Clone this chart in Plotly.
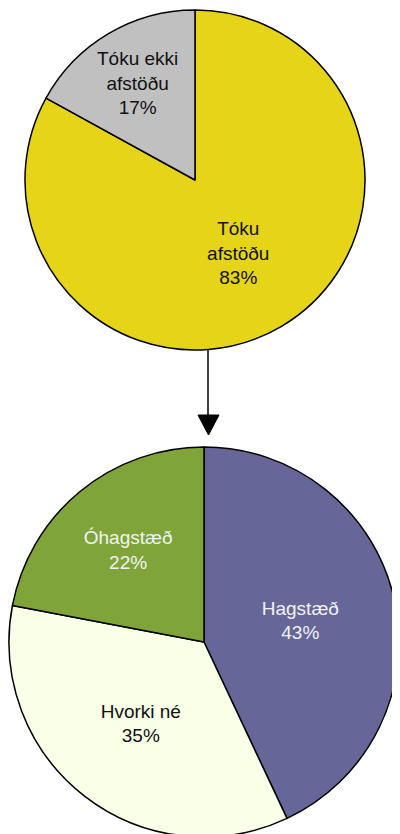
import plotly.graph_objects as go

# the page body has an 8px margin, so the figure starts 8px in;
# the bottom pie runs past the lower edge of the window like in the original
OFF = 8
W, H = 400 - OFF, 834

# top pie: did people take a position
top_labels = ["Tóku<br>afstöðu", "Tóku ekki<br>afstöðu"]
top_values = [83, 17]
top_colors = ["#E6D418", "#C0C0C0"]
top_text_colors = ["#111111", "#111111"]

# bottom pie: attitude among those who did
bot_labels = ["Hagstæð", "Hvorki né", "Óhagstæð"]
bot_values = [43, 35, 22]
bot_colors = ["#666699", "#FAFFE8", "#7FA53A"]
bot_text_colors = ["#F2F2F2", "#111111", "#F2F2F2"]

FONT = "Liberation Sans, Arial, sans-serif"


def px_x(x):
    # screen pixel -> paper fraction
    return (x - OFF) / W


def px_y(y):
    return 1 - (y - OFF) / H


fig = go.Figure()

fig.add_trace(go.Pie(
    labels=top_labels, values=top_values,
    sort=False, direction="clockwise", rotation=0,
    marker=dict(colors=top_colors, line=dict(color="black", width=1.5)),
    textinfo="label+percent", textposition="inside",
    insidetextorientation="horizontal",
    textfont=dict(family=FONT, size=19, color=top_text_colors),
    domain=dict(x=[px_x(25), px_x(365)], y=[px_y(350), px_y(10)]),
    showlegend=False, hoverinfo="label+percent",
))

fig.add_trace(go.Pie(
    labels=bot_labels, values=bot_values,
    sort=False, direction="clockwise", rotation=0,
    marker=dict(colors=bot_colors, line=dict(color="black", width=1.5)),
    textinfo="label+percent", textposition="inside",
    insidetextorientation="horizontal",
    textfont=dict(family=FONT, size=19, color=bot_text_colors),
    domain=dict(x=[px_x(9), px_x(399)], y=[px_y(837), px_y(447)]),
    showlegend=False, hoverinfo="label+percent",
))

# arrow between the pies
fig.add_shape(type="line", xref="paper", yref="paper",
              x0=px_x(208), x1=px_x(208), y0=px_y(350), y1=px_y(418),
              line=dict(color="black", width=1.5))
fig.add_shape(type="path", xref="paper", yref="paper",
              path=f"M {px_x(198)} {px_y(415)} L {px_x(219)} {px_y(415)} L {px_x(208.5)} {px_y(435)} Z",
              fillcolor="black", line=dict(color="black", width=1))

fig.update_layout(
    width=W, height=H,
    margin=dict(l=0, r=0, t=0, b=0),
    paper_bgcolor="white", plot_bgcolor="white",
    font=dict(family=FONT),
)

fig.write_html("out.html")
